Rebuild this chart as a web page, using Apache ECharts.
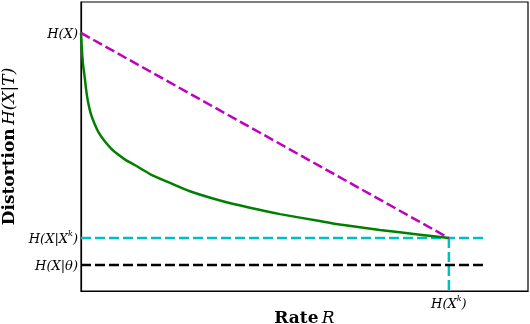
<!DOCTYPE html>
<html>
<head>
<meta charset="utf-8">
<script src="https://cdn.jsdelivr.net/npm/echarts@6/dist/echarts.min.js"></script>
<style>
  html, body { margin: 0; padding: 0; background: #fff; }
  #chart { width: 530px; height: 324px; }
</style>
</head>
<body>
<div id="chart"></div>
<script>
  // rate-distortion curve
  const rateX = [0, 0.0014, 0.0027, 0.0054, 0.010, 0.0136, 0.019, 0.027, 0.037, 0.049, 0.064, 0.082, 0.101, 0.122, 0.146, 0.190, 0.242, 0.296, 0.378, 0.459, 0.541, 0.649, 0.704, 0.812, 0.921, 1.0];
  const distY = [0.893, 0.860, 0.830, 0.785, 0.740, 0.700, 0.655, 0.612, 0.578, 0.546, 0.519, 0.493, 0.472, 0.453, 0.436, 0.403, 0.374, 0.345, 0.313, 0.288, 0.266, 0.242, 0.230, 0.211, 0.195, 0.183];

  // reference levels
  const hX = 0.893;
  const hXk = 0.183;
  const hTheta = 0.09;
  const rateK = 1.0;
  const lineEnd = 1.103;
  const xMax = 1.215;

  const yTickValues = [hTheta, hXk, hX];
  const yTickLabels = ['{i|H(X|θ)}', '{i|H(X|X}{s|k}{i|)}', '{i|H(X)}'];

  const serif = '"DejaVu Serif", "Liberation Serif", serif';
  const richMath = {
    i: { fontFamily: serif, fontStyle: 'italic', fontSize: 13, lineHeight: 16, verticalAlign: 'bottom', color: '#000' },
    s: { fontFamily: serif, fontStyle: 'italic', fontSize: 8, lineHeight: 7, verticalAlign: 'top', color: '#000' },
    b: { fontFamily: serif, fontWeight: 'bold', fontSize: 17, color: '#000' },
    m: { fontFamily: serif, fontStyle: 'italic', fontSize: 17, color: '#000' }
  };

  const dashed = [10, 4];

  const option = {
    animation: false,
    grid: {
      left: 81, right: 2, top: 2, bottom: 33,
      outerBoundsMode: 'none',
      containLabel: false,
      show: true, borderColor: '#000', borderWidth: 1.2
    },
    xAxis: {
      type: 'value',
      min: 0, max: xMax,
      name: '{b|Rate} {m|R}',
      nameLocation: 'middle',
      nameGap: 19,
      nameMoveOverlap: false,
      nameTextStyle: { rich: richMath },
      axisLine: { show: true, lineStyle: { color: '#000', width: 1.2 } },
      axisTick: { show: false },
      splitLine: { show: false },
      axisLabel: {
        customValues: [rateK],
        formatter: () => '{i|H(X}{s|k}{i|)}',
        rich: richMath,
        margin: 4
      }
    },
    yAxis: {
      type: 'value',
      min: 0, max: 1,
      name: '{b|Distortion} {m|H(X|T)}',
      nameLocation: 'middle',
      nameGap: 63,
      nameMoveOverlap: false,
      nameTextStyle: { rich: richMath },
      axisLine: { show: true, lineStyle: { color: '#000', width: 1.2 } },
      axisTick: { show: false },
      splitLine: { show: false },
      axisLabel: {
        customValues: yTickValues,
        formatter: (v) => {
          let best = 0;
          yTickValues.forEach((t, k) => { if (Math.abs(t - v) < Math.abs(yTickValues[best] - v)) best = k; });
          return yTickLabels[best];
        },
        rich: richMath,
        margin: 3
      }
    },
    series: [
      {
        type: 'line',
        data: [[0, hXk], [lineEnd, hXk]],
        symbol: 'none',
        lineStyle: { color: '#00bfbf', width: 2.5, type: dashed }
      },
      {
        type: 'line',
        data: [[rateK, hXk], [rateK, 0]],
        symbol: 'none',
        lineStyle: { color: '#00bfbf', width: 2.5, type: dashed }
      },
      {
        type: 'line',
        data: [[0, hTheta], [lineEnd, hTheta]],
        symbol: 'none',
        lineStyle: { color: '#000', width: 2.5, type: dashed }
      },
      {
        type: 'line',
        data: rateX.map((x, k) => [x, distY[k]]),
        smooth: 0.2,
        symbol: 'none',
        lineStyle: { color: '#008000', width: 2.5 }
      },
      {
        type: 'line',
        data: [[0, hX], [rateK, hXk]],
        symbol: 'none',
        lineStyle: { color: '#bf00bf', width: 2.5, type: dashed }
      }
    ]
  };

  const chart = echarts.init(document.getElementById('chart'));
  chart.setOption(option);
</script>
</body>
</html>
